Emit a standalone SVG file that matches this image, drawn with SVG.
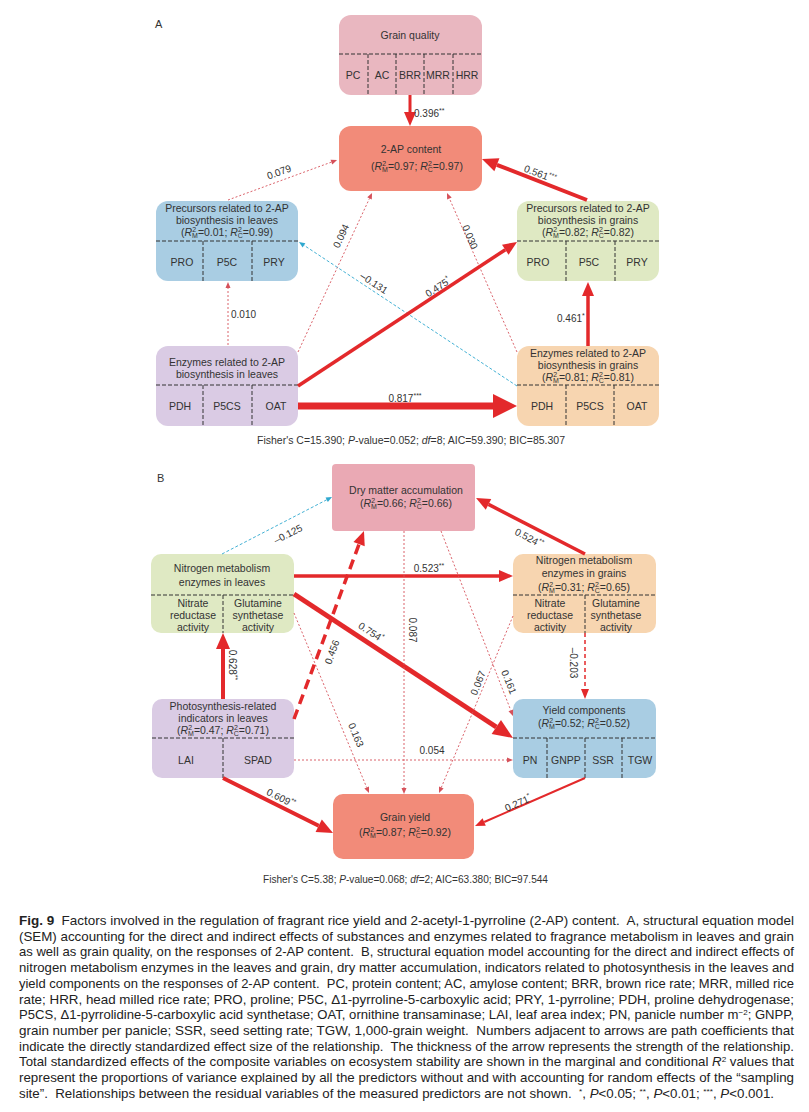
<svg xmlns="http://www.w3.org/2000/svg" width="809" height="1112" viewBox="0 0 809 1112">
<style>
text{font-family:"Liberation Sans",Arial,sans-serif;fill:#333}
.t{font-size:10.5px;text-anchor:middle}
.l{font-size:10px;text-anchor:middle}
.ls{font-size:10px}
.sup{font-size:7px}
.i{font-style:italic}
.cap{font-size:13px;fill:#222}
.div{stroke:#333;stroke-width:1;stroke-dasharray:4 2;fill:none}
.red{stroke:#e3292b;fill:none}
.dot{stroke:#d6515a;stroke-width:0.9;stroke-dasharray:2 2;fill:none}
.cy{stroke:#2fa8cf;stroke-width:0.9;stroke-dasharray:3 2;fill:none}
</style>
<defs>
<marker id="hT" markerUnits="userSpaceOnUse" markerWidth="8" markerHeight="8" refX="0" refY="2.5" orient="auto" overflow="visible"><path d="M0,0 L6,2.5 L0,5 z" fill="#d6515a"/></marker>
<marker id="hC" markerUnits="userSpaceOnUse" markerWidth="8" markerHeight="8" refX="0" refY="2.5" orient="auto" overflow="visible"><path d="M0,0 L6,2.5 L0,5 z" fill="#2fa8cf"/></marker>
<marker id="hS" markerUnits="userSpaceOnUse" markerWidth="12" markerHeight="10" refX="0" refY="4" orient="auto" overflow="visible"><path d="M0,0 L10,4 L0,8 z" fill="#e3292b"/></marker>
<marker id="hM" markerUnits="userSpaceOnUse" markerWidth="16" markerHeight="14" refX="0" refY="6" orient="auto" overflow="visible"><path d="M0,0 L14,6 L0,12 z" fill="#e3292b"/></marker>
<marker id="hM2" markerUnits="userSpaceOnUse" markerWidth="18" markerHeight="16" refX="0" refY="7" orient="auto" overflow="visible"><path d="M0,0 L16,7 L0,14 z" fill="#e3292b"/></marker>
<marker id="hL" markerUnits="userSpaceOnUse" markerWidth="22" markerHeight="19" refX="0" refY="8.5" orient="auto" overflow="visible"><path d="M0,0 L20,8.5 L0,17 z" fill="#e3292b"/></marker>
<marker id="hX" markerUnits="userSpaceOnUse" markerWidth="26" markerHeight="26" refX="0" refY="12" orient="auto" overflow="visible"><path d="M0,0 L24,12 L0,24 z" fill="#e3292b"/></marker>
</defs>
<rect width="809" height="1112" fill="#fff"/>

<text x="155" y="28" style="font-size:11px">A</text>
<text x="157" y="482" style="font-size:11px">B</text>

<!-- Panel A nodes -->
<g id="grain-quality">
<rect x="339" y="15" width="143" height="80" rx="12" fill="#e9b7c0"/>
<text class="t" x="410" y="39">Grain quality</text>
<path class="div" d="M339,54 H482 M368,54 V95 M396,54 V95 M424,54 V95 M453,54 V95"/>
<text class="t" x="353" y="79">PC</text>
<text class="t" x="382" y="79">AC</text>
<text class="t" x="410" y="79">BRR</text>
<text class="t" x="438" y="79">MRR</text>
<text class="t" x="467" y="79">HRR</text>
</g>

<g id="ap-content">
<rect x="339" y="126" width="143" height="65" rx="12" fill="#f28b79"/>
<text class="t" x="411" y="153">2-AP content</text>
<text class="t" x="417" y="170">(<tspan class="i">R</tspan><tspan class="sup" dy="-4">2</tspan><tspan class="sup" dx="-4" dy="6">M</tspan><tspan dy="-2">=0.97; </tspan><tspan class="i">R</tspan><tspan class="sup" dy="-4">2</tspan><tspan class="sup" dx="-4" dy="6">C</tspan><tspan dy="-2">=0.97)</tspan></text>
</g>

<g id="precursors-leaves">
<rect x="156" y="201" width="142" height="80" rx="12" fill="#a9cde3"/>
<text class="t" x="227" y="212">Precursors related to 2-AP</text>
<text class="t" x="227" y="224">biosynthesis in leaves</text>
<text class="t" x="227" y="236">(<tspan class="i">R</tspan><tspan class="sup" dy="-4">2</tspan><tspan class="sup" dx="-4" dy="6">M</tspan><tspan dy="-2">=0.01; </tspan><tspan class="i">R</tspan><tspan class="sup" dy="-4">2</tspan><tspan class="sup" dx="-4" dy="6">C</tspan><tspan dy="-2">=0.99)</tspan></text>
<path class="div" d="M156,241 H298 M203,241 V281 M252,241 V281"/>
<text class="t" x="182" y="266">PRO</text>
<text class="t" x="227" y="266">P5C</text>
<text class="t" x="274" y="266">PRY</text>
</g>

<g id="precursors-grains">
<rect x="517" y="201" width="142" height="80" rx="12" fill="#dfe9c3"/>
<text class="t" x="588" y="212">Precursors related to 2-AP</text>
<text class="t" x="588" y="224">biosynthesis in grains</text>
<text class="t" x="588" y="236">(<tspan class="i">R</tspan><tspan class="sup" dy="-4">2</tspan><tspan class="sup" dx="-4" dy="6">M</tspan><tspan dy="-2">=0.82; </tspan><tspan class="i">R</tspan><tspan class="sup" dy="-4">2</tspan><tspan class="sup" dx="-4" dy="6">C</tspan><tspan dy="-2">=0.82)</tspan></text>
<path class="div" d="M517,241 H659 M566,241 V281 M615,241 V281"/>
<text class="t" x="538" y="266">PRO</text>
<text class="t" x="589" y="266">P5C</text>
<text class="t" x="637" y="266">PRY</text>
</g>

<g id="enzymes-leaves">
<rect x="156" y="346" width="142" height="80" rx="12" fill="#dacbe4"/>
<text class="t" x="227" y="366">Enzymes related to 2-AP</text>
<text class="t" x="227" y="378">biosynthesis in leaves</text>
<path class="div" d="M156,385 H298 M203,385 V426 M252,385 V426"/>
<text class="t" x="180" y="410">PDH</text>
<text class="t" x="227" y="410">P5CS</text>
<text class="t" x="276" y="410">OAT</text>
</g>

<g id="enzymes-grains">
<rect x="517" y="346" width="142" height="80" rx="12" fill="#f7d5b0"/>
<text class="t" x="588" y="357">Enzymes related to 2-AP</text>
<text class="t" x="588" y="369">biosynthesis in grains</text>
<text class="t" x="588" y="381">(<tspan class="i">R</tspan><tspan class="sup" dy="-4">2</tspan><tspan class="sup" dx="-4" dy="6">M</tspan><tspan dy="-2">=0.81; </tspan><tspan class="i">R</tspan><tspan class="sup" dy="-4">2</tspan><tspan class="sup" dx="-4" dy="6">C</tspan><tspan dy="-2">=0.81)</tspan></text>
<path class="div" d="M517,385 H659 M566,385 V426 M614,385 V426"/>
<text class="t" x="542" y="410">PDH</text>
<text class="t" x="590" y="410">P5CS</text>
<text class="t" x="637" y="410">OAT</text>
</g>

<!-- Panel B nodes -->
<g id="dry-matter">
<rect x="332" y="464" width="143" height="67" rx="4" fill="#eaa9b4"/>
<text class="t" x="406" y="494">Dry matter accumulation</text>
<text class="t" x="406" y="507">(<tspan class="i">R</tspan><tspan class="sup" dy="-4">2</tspan><tspan class="sup" dx="-4" dy="6">M</tspan><tspan dy="-2">=0.66; </tspan><tspan class="i">R</tspan><tspan class="sup" dy="-4">2</tspan><tspan class="sup" dx="-4" dy="6">C</tspan><tspan dy="-2">=0.66)</tspan></text>
</g>

<g id="nitrogen-leaves">
<rect x="151" y="554" width="143" height="79" rx="10" fill="#dfe9c3"/>
<text class="t" x="222" y="572">Nitrogen metabolism</text>
<text class="t" x="222" y="586">enzymes in leaves</text>
<path class="div" d="M151,595 H294 M223,595 V633"/>
<text class="t" x="193" y="607">Nitrate</text>
<text class="t" x="193" y="619">reductase</text>
<text class="t" x="193" y="631">activity</text>
<text class="t" x="258" y="607">Glutamine</text>
<text class="t" x="258" y="619">synthetase</text>
<text class="t" x="258" y="631">activity</text>
</g>

<g id="nitrogen-grains">
<rect x="513" y="554" width="143" height="79" rx="10" fill="#f7d5b0"/>
<text class="t" x="584" y="564">Nitrogen metabolism</text>
<text class="t" x="584" y="577">enzymes in grains</text>
<text class="t" x="584" y="591">(<tspan class="i">R</tspan><tspan class="sup" dy="-4">2</tspan><tspan class="sup" dx="-4" dy="6">M</tspan><tspan dy="-2">=0.31; </tspan><tspan class="i">R</tspan><tspan class="sup" dy="-4">2</tspan><tspan class="sup" dx="-4" dy="6">C</tspan><tspan dy="-2">=0.65)</tspan></text>
<path class="div" d="M513,595 H656 M585,595 V633"/>
<text class="t" x="550" y="607">Nitrate</text>
<text class="t" x="550" y="619">reductase</text>
<text class="t" x="550" y="631">activity</text>
<text class="t" x="616" y="607">Glutamine</text>
<text class="t" x="616" y="619">synthetase</text>
<text class="t" x="616" y="631">activity</text>
</g>

<g id="photosynthesis-leaves">
<rect x="152" y="699" width="142" height="79" rx="10" fill="#dacbe4"/>
<text class="t" x="223" y="710">Photosynthesis-related</text>
<text class="t" x="223" y="722">indicators in leaves</text>
<text class="t" x="223" y="734">(<tspan class="i">R</tspan><tspan class="sup" dy="-4">2</tspan><tspan class="sup" dx="-4" dy="6">M</tspan><tspan dy="-2">=0.47; </tspan><tspan class="i">R</tspan><tspan class="sup" dy="-4">2</tspan><tspan class="sup" dx="-4" dy="6">C</tspan><tspan dy="-2">=0.71)</tspan></text>
<path class="div" d="M152,738 H294 M223,738 V778"/>
<text class="t" x="186" y="764">LAI</text>
<text class="t" x="258" y="764">SPAD</text>
</g>

<g id="yield-components">
<rect x="513" y="699" width="143" height="79" rx="10" fill="#a9cde3"/>
<text class="t" x="584" y="714">Yield components</text>
<text class="t" x="584" y="727">(<tspan class="i">R</tspan><tspan class="sup" dy="-4">2</tspan><tspan class="sup" dx="-4" dy="6">M</tspan><tspan dy="-2">=0.52; </tspan><tspan class="i">R</tspan><tspan class="sup" dy="-4">2</tspan><tspan class="sup" dx="-4" dy="6">C</tspan><tspan dy="-2">=0.52)</tspan></text>
<path class="div" d="M513,738 H656 M547,738 V778 M585,738 V778 M622,738 V778"/>
<text class="t" x="530" y="764">PN</text>
<text class="t" x="566" y="764">GNPP</text>
<text class="t" x="603" y="764">SSR</text>
<text class="t" x="640" y="764">TGW</text>
</g>

<g id="grain-yield">
<rect x="333" y="794" width="141" height="65" rx="10" fill="#f28b79"/>
<text class="t" x="405" y="821">Grain yield</text>
<text class="t" x="405" y="836">(<tspan class="i">R</tspan><tspan class="sup" dy="-4">2</tspan><tspan class="sup" dx="-4" dy="6">M</tspan><tspan dy="-2">=0.87; </tspan><tspan class="i">R</tspan><tspan class="sup" dy="-4">2</tspan><tspan class="sup" dx="-4" dy="6">C</tspan><tspan dy="-2">=0.92)</tspan></text>
</g>

<!-- Connectors -->
<g id="connectors">
<path class="red" stroke-width="3" d="M410,95 L410,112" marker-end="url(#hM)"/>
<path class="dot" d="M228,200 L331.4,162.1" marker-end="url(#hT)"/>
<path class="red" stroke-width="4" d="M587,200 L496.9,164.8" marker-end="url(#hM2)"/>
<path class="dot" d="M228,345 L228,288" marker-end="url(#hT)"/>
<path class="dot" d="M298,352 L369.5,198.4" marker-end="url(#hT)"/>
<path class="dot" d="M517,352 L449.4,198.5" marker-end="url(#hT)"/>
<path class="cy" d="M517,386 L304,245.3" marker-end="url(#hC)"/>
<path class="red" stroke-width="3.5" d="M298,386 L505.3,249.7" marker-end="url(#hM)"/>
<path class="red" stroke-width="7" d="M298,406 L493,406" marker-end="url(#hX)"/>
<path class="red" stroke-width="3.5" d="M588,346 L588,296" marker-end="url(#hM)"/>

<path class="cy" d="M222,554 L326.7,499.8" marker-end="url(#hC)"/>
<path class="red" stroke-width="3.5" d="M585,554 L488.5,504.4" marker-end="url(#hM)"/>
<path class="red" stroke-width="3.5" d="M294,576 L499,576" marker-end="url(#hM)"/>
<path class="red" stroke-width="5" d="M294,594 L496.3,727" marker-end="url(#hL)"/>
<path class="dot" d="M294,613 L366.7,787.5" marker-end="url(#hT)"/>
<path class="red" stroke-width="3.5" stroke-dasharray="10 6" d="M294,719 L359.1,544.1" marker-end="url(#hM)"/>
<path class="dot" d="M404,531 L404,788" marker-end="url(#hT)"/>
<path class="dot" d="M441,531 L510.8,710.4" marker-end="url(#hT)"/>
<path class="dot" d="M513,616 L441.3,787.5" marker-end="url(#hT)"/>
<path class="red" stroke-width="1.5" stroke-dasharray="4 3" d="M585,633 L585,689" marker-end="url(#hS)"/>
<path class="dot" d="M294,760 L507,760" marker-end="url(#hT)"/>
<path class="red" stroke-width="4" d="M223,778 L318.7,825.8" marker-end="url(#hM2)"/>
<path class="red" stroke-width="2" d="M585,778 L484.2,822" marker-end="url(#hS)"/>
<path class="red" stroke-width="4" d="M223,699 L223,649" marker-end="url(#hM2)"/>

<!-- labels -->
<text class="ls" x="414" y="117">0.396<tspan class="sup" dy="-4">**</tspan></text>
<text class="l" transform="translate(279,172) rotate(-20)" y="3.5">0.079</text>
<text class="l" transform="translate(540,174) rotate(21)" y="3.5">0.561<tspan class="sup" dy="-4">***</tspan></text>
<text class="ls" x="231" y="318">0.010</text>
<text class="l" transform="translate(341,236) rotate(-65)" y="3.5">0.094</text>
<text class="l" transform="translate(470,237) rotate(67)" y="3.5">0.030</text>
<text class="l" transform="translate(374,283) rotate(33)" y="3.5">–0.131</text>
<text class="l" transform="translate(438,287) rotate(-33)" y="3.5">0.475<tspan class="sup" dy="-4">*</tspan></text>
<text class="l" x="405" y="402">0.817<tspan class="sup" dy="-4">***</tspan></text>
<text class="ls" x="557" y="322">0.461<tspan class="sup" dy="-4">*</tspan></text>

<text class="l" transform="translate(288,534) rotate(-27)" y="3.5">–0.125</text>
<text class="l" transform="translate(529,538) rotate(28)" y="3.5">0.524<tspan class="sup" dy="-4">**</tspan></text>
<text class="l" x="429" y="572">0.523<tspan class="sup" dy="-4">**</tspan></text>
<text class="l" transform="translate(371,632) rotate(33)" y="3.5">0.754<tspan class="sup" dy="-4">*</tspan></text>
<text class="l" transform="translate(356,735) rotate(67)" y="3.5">0.163</text>
<text class="l" transform="translate(332,652) rotate(-70)" y="3.5">0.456</text>
<text class="l" transform="translate(412,630) rotate(90)" y="3.5">0.087</text>
<text class="l" transform="translate(509,682) rotate(68)" y="3.5">0.161</text>
<text class="l" transform="translate(478,683) rotate(-68)" y="3.5">0.067</text>
<text class="l" transform="translate(573,663) rotate(90)" y="3.5">–0.203</text>
<text class="l" x="432" y="754">0.054</text>
<text class="l" transform="translate(281,798) rotate(27)" y="3.5">0.609<tspan class="sup" dy="-4">**</tspan></text>
<text class="l" transform="translate(518,803) rotate(-24)" y="3.5">0.271<tspan class="sup" dy="-4">*</tspan></text>
<text class="l" transform="translate(232,665) rotate(90)" y="3.5">0.628<tspan class="sup" dy="-4">**</tspan></text>
</g>

<text x="257" y="444" style="font-size:10px" textLength="308" lengthAdjust="spacingAndGlyphs">Fisher's C=15.390; <tspan class="i">P</tspan>-value=0.052; <tspan class="i">df</tspan>=8; AIC=59.390; BIC=85.307</text>
<text x="263" y="883" style="font-size:10px" textLength="285" lengthAdjust="spacingAndGlyphs">Fisher's C=5.38; <tspan class="i">P</tspan>-value=0.068; <tspan class="i">df</tspan>=2; AIC=63.380; BIC=97.544</text>

<g id="caption">
<text class="cap" x="19" y="925" textLength="775" lengthAdjust="spacingAndGlyphs" xml:space="preserve"><tspan font-weight="bold">Fig. 9</tspan>  Factors involved in the regulation of fragrant rice yield and 2-acetyl-1-pyrroline (2-AP) content.  A, structural equation model</text>
<text class="cap" x="19" y="940.7" textLength="775" lengthAdjust="spacingAndGlyphs" xml:space="preserve">(SEM) accounting for the direct and indirect effects of substances and enzymes related to fragrance metabolism in leaves and grain</text>
<text class="cap" x="19" y="956.4" textLength="775" lengthAdjust="spacingAndGlyphs" xml:space="preserve">as well as grain quality, on the responses of 2-AP content.  B, structural equation model accounting for the direct and indirect effects of</text>
<text class="cap" x="19" y="972.1" textLength="775" lengthAdjust="spacingAndGlyphs" xml:space="preserve">nitrogen metabolism enzymes in the leaves and grain, dry matter accumulation, indicators related to photosynthesis in the leaves and</text>
<text class="cap" x="19" y="987.8" textLength="775" lengthAdjust="spacingAndGlyphs" xml:space="preserve">yield components on the responses of 2-AP content.  PC, protein content; AC, amylose content; BRR, brown rice rate; MRR, milled rice</text>
<text class="cap" x="19" y="1003.5" textLength="775" lengthAdjust="spacingAndGlyphs" xml:space="preserve">rate; HRR, head milled rice rate; PRO, proline; P5C, Δ1-pyrroline-5-carboxylic acid; PRY, 1-pyrroline; PDH, proline dehydrogenase;</text>
<text class="cap" x="19" y="1019.2" textLength="775" lengthAdjust="spacingAndGlyphs" xml:space="preserve">P5CS, Δ1-pyrrolidine-5-carboxylic acid synthetase; OAT, ornithine transaminase; LAI, leaf area index; PN, panicle number m<tspan font-size="8" dy="-4">−2</tspan><tspan dy="4">; GNPP,</tspan></text>
<text class="cap" x="19" y="1034.9" textLength="775" lengthAdjust="spacingAndGlyphs" xml:space="preserve">grain number per panicle; SSR, seed setting rate; TGW, 1,000-grain weight.  Numbers adjacent to arrows are path coefficients that</text>
<text class="cap" x="19" y="1050.6" textLength="775" lengthAdjust="spacingAndGlyphs" xml:space="preserve">indicate the directly standardized effect size of the relationship.  The thickness of the arrow represents the strength of the relationship.</text>
<text class="cap" x="19" y="1066.3" textLength="775" lengthAdjust="spacingAndGlyphs" xml:space="preserve">Total standardized effects of the composite variables on ecosystem stability are shown in the marginal and conditional <tspan class="i">R</tspan><tspan font-size="8" dy="-4">2</tspan><tspan dy="4"> values that</tspan></text>
<text class="cap" x="19" y="1082" textLength="775" lengthAdjust="spacingAndGlyphs" xml:space="preserve">represent the proportions of variance explained by all the predictors without and with accounting for random effects of the “sampling</text>
<text class="cap" x="19" y="1097.7" textLength="755" lengthAdjust="spacingAndGlyphs" xml:space="preserve">site”.  Relationships between the residual variables of the measured predictors are not shown.  <tspan font-size="8" dy="-4">*</tspan><tspan dy="4">, </tspan><tspan class="i">P</tspan>&lt;0.05; <tspan font-size="8" dy="-4">**</tspan><tspan dy="4">, </tspan><tspan class="i">P</tspan>&lt;0.01; <tspan font-size="8" dy="-4">***</tspan><tspan dy="4">, </tspan><tspan class="i">P</tspan>&lt;0.001.</text>
</g>
</svg>
